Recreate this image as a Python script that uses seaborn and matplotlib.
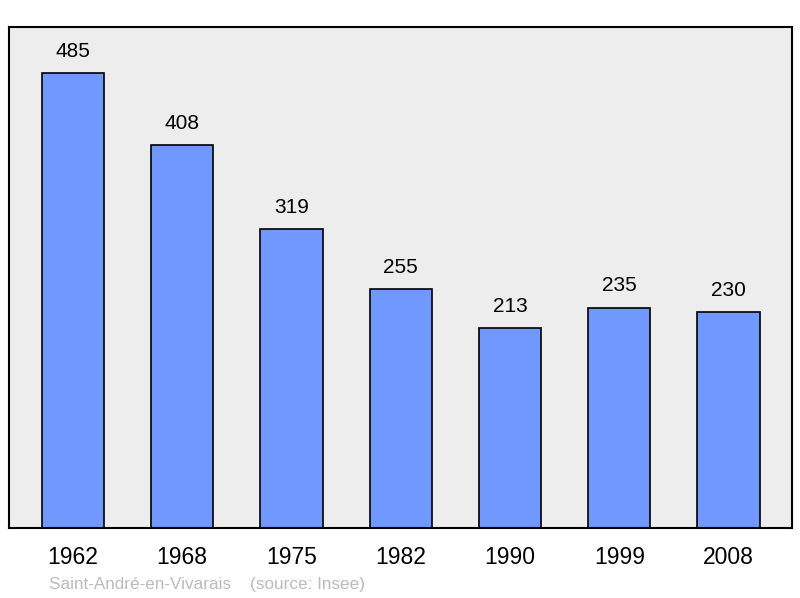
import matplotlib
matplotlib.use("Agg")
import matplotlib.pyplot as plt
import seaborn as sns
import pandas as pd

years = ["1962", "1968", "1975", "1982", "1990", "1999", "2008"]
population = [485, 408, 319, 255, 213, 235, 230]

df = pd.DataFrame({"year": years, "pop": population})

sns.set_style("white")
plt.rcParams["font.family"] = ["Liberation Sans", "DejaVu Sans"]

fig = plt.figure(figsize=(8, 5.98), dpi=100)
ax = fig.add_axes([0.01125, 0.117, 0.97875, 0.8378])
ax.set_facecolor("#ededed")

sns.barplot(data=df, x="year", y="pop", color="#7098ff", saturation=1,
            width=0.57, edgecolor="black", linewidth=1.2, ax=ax)

# value above each bar
for i, v in enumerate(population):
    ax.text(i, v + 13, str(v), ha="center", va="bottom", fontsize=15,
            color="black")

ax.set_xlim(-0.585, 6.58)
ax.set_ylim(0, 534)
ax.set_yticks([])
ax.set_xlabel("")
ax.set_ylabel("")
ax.tick_params(axis="x", length=0, labelsize=16.5, pad=13, labelcolor="black")
for s in ax.spines.values():
    s.set_visible(True)
    s.set_color("black")
    s.set_linewidth(1.5)

fig.text(49 / 800, 1 - 584 / 598, "Saint-André-en-Vivarais    (source: Insee)",
         fontsize=12.3, color="#bbbbbb", ha="left", va="center")

fig.savefig("out.png", dpi=100)
